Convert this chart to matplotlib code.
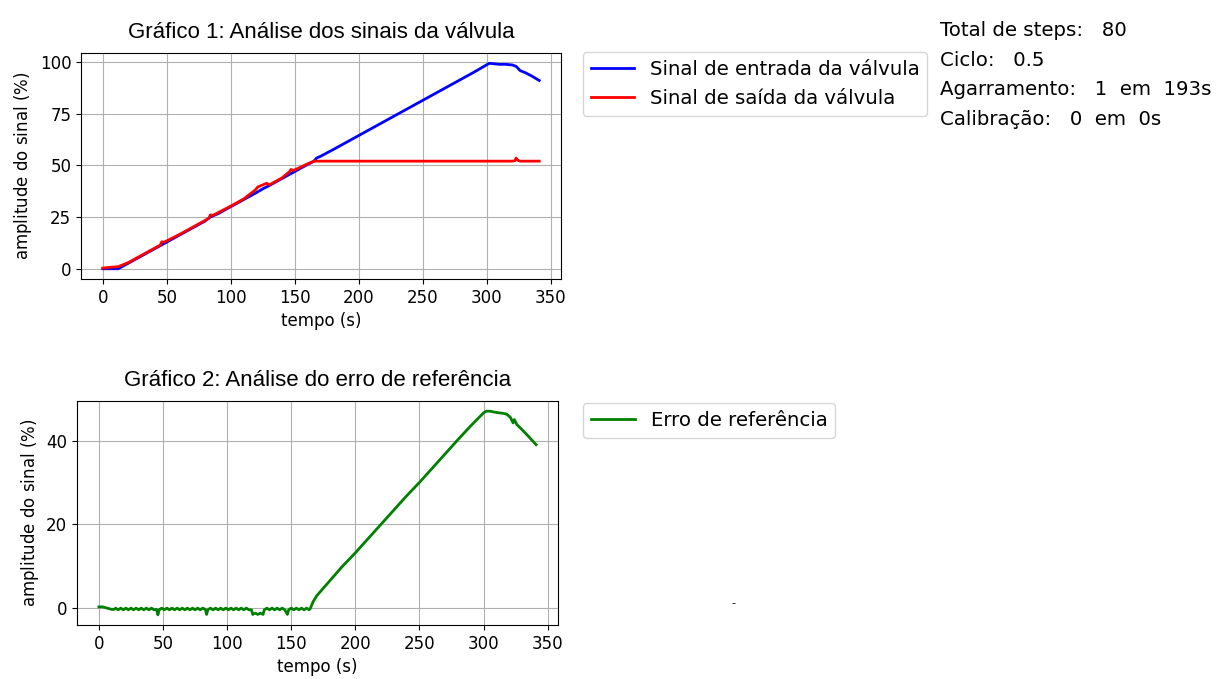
import matplotlib
matplotlib.use('Agg')
import matplotlib.pyplot as plt

# sinal de entrada da valvula (azul)
t_entrada = [0, 5, 10, 12, 20, 30, 40, 45, 50, 60, 70, 80, 84, 90, 100, 110, 120, 125, 130,
             140, 150, 160, 165, 167, 170, 180, 190, 200, 210, 220, 230, 240, 250, 260, 270,
             280, 290, 300, 302, 305, 310, 315, 320, 323, 326, 330, 335, 341]
sinal_entrada = [0.0, 0.0, 0.0, 0.0, 2.7, 6.1, 9.5, 11.2, 12.9, 16.3, 19.7, 23.1, 25.0, 26.6,
                 30.0, 33.4, 36.8, 38.6, 40.2, 43.6, 47.0, 50.4, 52.0, 53.5, 54.3, 57.6, 61.0,
                 64.4, 67.8, 71.2, 74.6, 78.0, 81.4, 84.8, 88.2, 91.6, 95.0, 98.6, 99.3, 99.1,
                 98.8, 98.8, 98.5, 97.8, 95.8, 94.8, 93.2, 91.0]

# sinal de saida da valvula (vermelho)
t_saida = [0, 8, 12, 20, 30, 40, 45, 46, 48, 60, 70, 80, 83, 84, 86, 100, 110, 119, 121, 128,
           130, 140, 146, 147, 149, 160, 165, 200, 250, 300, 320, 322, 323, 324, 326, 341]
sinal_saida = [0.3, 0.8, 1.0, 3.0, 6.4, 9.8, 11.5, 13.0, 12.9, 16.6, 20.0, 23.4, 24.5, 26.0,
               25.8, 30.3, 33.7, 38.0, 39.5, 41.3, 40.5, 43.9, 47.0, 48.0, 47.5, 50.7, 52.0,
               52.0, 52.0, 52.0, 52.0, 52.2, 53.5, 52.5, 52.0, 52.0]

# erro de referencia (verde)
t_erro = [0, 3, 10, 12, 13, 15, 17, 19, 21, 23, 25, 27, 29, 31, 33, 35, 37, 39, 41, 43, 45,
          46, 47, 49, 51, 53, 55, 57, 59, 61, 63, 65, 67, 69, 71, 73, 75, 77, 79, 81, 83, 84,
          85, 87, 89, 91, 93, 95, 97, 99, 101, 103, 105, 107, 109, 111, 113, 115, 117, 119,
          120, 122, 124, 126, 128, 129, 131, 133, 135, 137, 139, 141, 143, 145, 147, 148, 150,
          152, 154, 156, 158, 160, 162, 164, 165, 167, 170, 180, 190, 200, 210, 220, 230, 240,
          250, 260, 270, 280, 290, 300, 302, 305, 310, 315, 318, 321, 323, 324, 326, 330, 335,
          341]
erro = [0.3, 0.3, -0.3, -0.3, 0.0, -0.4, 0.0, -0.4, 0.0, -0.4, 0.0, -0.4, 0.0, -0.4, 0.0,
        -0.4, 0.0, -0.4, 0.0, -0.4, -0.3, -1.6, -0.4, 0.0, -0.4, 0.0, -0.4, 0.0, -0.4, 0.0,
        -0.4, 0.0, -0.4, 0.0, -0.4, 0.0, -0.4, 0.0, -0.4, 0.0, -0.3, -1.5, -0.4, 0.0, -0.4,
        0.0, -0.4, 0.0, -0.4, 0.0, -0.4, 0.0, -0.4, 0.0, -0.4, 0.0, -0.4, 0.0, -0.4, -0.4,
        -1.5, -1.2, -1.5, -1.2, -1.5, -0.4, 0.0, -0.4, 0.0, -0.4, 0.0, -0.4, 0.0, -0.4, -1.5,
        -0.4, 0.0, -0.4, 0.0, -0.4, 0.0, -0.4, 0.0, -0.4, 0.0, 1.5, 3.0, 6.5, 10.0, 13.2, 16.6,
        20.0, 23.4, 26.8, 30.0, 33.4, 36.8, 40.2, 43.5, 46.6, 47.0, 47.0, 46.7, 46.5, 46.3,
        45.5, 44.2, 45.0, 43.8, 42.6, 41.0, 39.0]

info = ['Total de steps:   80', 'Ciclo:   0.5', 'Agarramento:   1  em  193s',
        'Calibração:   0  em  0s']

plt.rcParams['xtick.labelsize'] = 12
plt.rcParams['ytick.labelsize'] = 12
plt.rcParams['axes.labelsize'] = 12

fig = plt.figure(figsize=(12.17, 6.79), dpi=100)
ax1 = fig.add_axes([0.0666, 0.5891, 0.3944, 0.3328])
ax2 = fig.add_axes([0.0633, 0.0795, 0.3952, 0.3299])

ax1.plot(t_entrada, sinal_entrada, color='blue', lw=2, label='Sinal de entrada da válvula')
ax1.plot(t_saida, sinal_saida, color='red', lw=2, label='Sinal de saída da válvula')
ax1.set_yticks([0, 25, 50, 75, 100])
ax1.set_title('Gráfico 1: Análise dos sinais da válvula', family='Liberation Sans',
              fontsize=16, pad=11)
ax1.set_xlabel('tempo (s)')
ax1.set_ylabel('amplitude do sinal ($\\%$)')
ax1.grid(True)
ax1.legend(loc='upper left', bbox_to_anchor=(1.045, 1.004), fontsize=14.2,
           borderaxespad=0, handlelength=2.2)

ax2.plot(t_erro, erro, color='green', lw=2, label='Erro de referência')
ax2.set_yticks([0, 20, 40])
ax2.set_title('Gráfico 2: Análise do erro de referência', family='Liberation Sans',
              fontsize=16, pad=11)
ax2.set_xlabel('tempo (s)')
ax2.set_ylabel('amplitude do sinal ($\\%$)')
ax2.grid(True)
ax2.legend(loc='upper left', bbox_to_anchor=(1.053, 0.99), fontsize=14.2,
           borderaxespad=0, handlelength=2.2)

for i, linha in enumerate(info):
    fig.text(940 / 1217, 1 - (36 + 29.7 * i) / 679, linha, fontsize=14.2, va='baseline')

fig.text(733 / 1217, 1 - 603 / 679, '-', fontsize=8, ha='center', va='center')

fig.savefig('out.png', dpi=100)
